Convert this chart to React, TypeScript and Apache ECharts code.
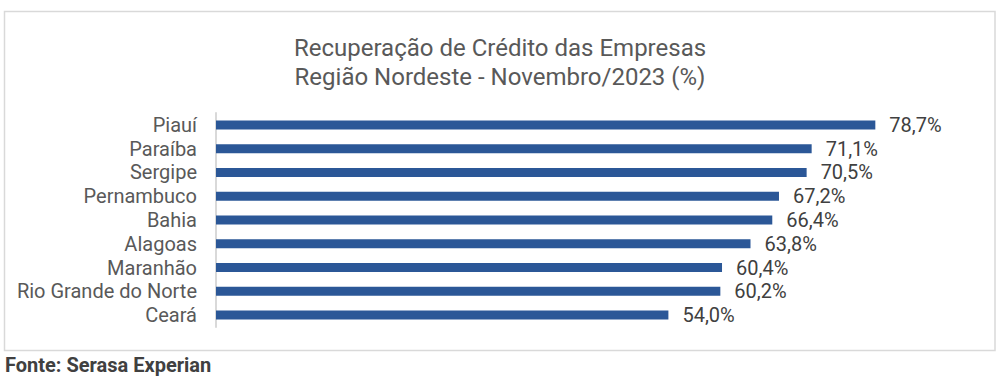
import React, { useEffect, useRef } from "react";
import * as echarts from "echarts";

const categories = [
  "Piauí",
  "Paraíba",
  "Sergipe",
  "Pernambuco",
  "Bahia",
  "Alagoas",
  "Maranhão",
  "Rio Grande do Norte",
  "Ceará",
];
const values = [78.7, 71.1, 70.5, 67.2, 66.4, 63.8, 60.4, 60.2, 54.0];
const titleLines = [
  "Recuperação de Crédito das Empresas",
  "Região Nordeste - Novembro/2023 (%)",
];
const sourceText = "Fonte: Serasa Experian";

export default function App() {
  const ref = useRef<HTMLDivElement>(null);
  useEffect(() => {
    if (!ref.current) return;
    const chart = echarts.init(ref.current, null, { renderer: "svg" });
    chart.setOption({
      animation: false,
      backgroundColor: "#ffffff",
      title: {
        text: titleLines.join("\n"),
        left: "center",
        top: 28,
        textStyle: {
          fontFamily: "Roboto",
          fontSize: 24,
          fontWeight: "normal",
          color: "#595959",
          lineHeight: 29,
        },
      },
      graphic: [
        {
          type: "rect",
          shape: { x: 4.5, y: 11.5, width: 990.5, height: 339 },
          style: { fill: "none", stroke: "#d9d9d9", lineWidth: 1.5 },
          silent: true,
        },
        {
          type: "text",
          left: 5,
          top: 355,
          style: {
            text: sourceText,
            font: "bold 20px Roboto",
            fill: "#404040",
          },
        },
      ],
      grid: { left: 216, top: 113, width: 754, height: 214, containLabel: false },
      xAxis: {
        type: "value",
        min: 0,
        max: 90,
        show: false,
      },
      yAxis: {
        type: "category",
        data: categories,
        inverse: true,
        axisLine: { show: true, lineStyle: { color: "#d9d9d9", width: 2 } },
        axisTick: { show: false },
        axisLabel: {
          interval: 0,
          margin: 19,
          fontFamily: "Roboto",
          fontSize: 20,
          color: "#595959",
        },
      },
      series: [
        {
          type: "bar",
          data: values,
          barWidth: 9,
          itemStyle: { color: "#2b5797" },
          label: {
            show: true,
            position: "right",
            distance: 14,
            fontFamily: "Roboto",
            fontSize: 20,
            color: "#404040",
            formatter: (p: any) => p.value.toFixed(1).replace(".", ",") + "%",
          },
        },
      ],
    });
    return () => chart.dispose();
  }, []);
  return (
    <div
      ref={ref}
      style={{ position: "fixed", left: 0, top: 0, width: 1000, height: 382 }}
    />
  );
}
